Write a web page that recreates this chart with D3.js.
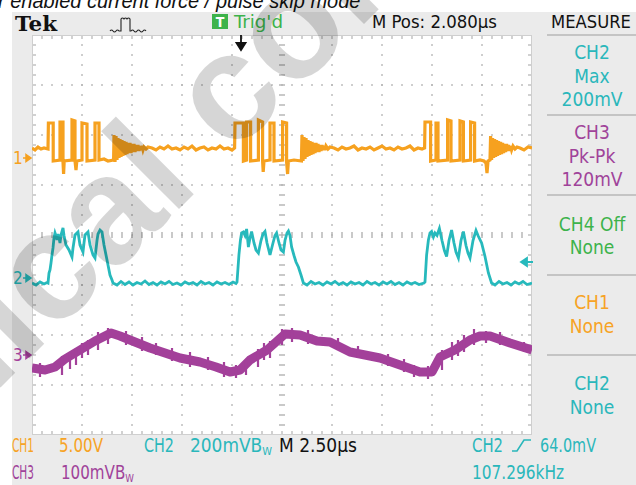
<!DOCTYPE html>
<html><head><meta charset="utf-8">
<script src="https://cdn.jsdelivr.net/npm/d3@7"></script>
<style>html,body{margin:0;padding:0;background:#fff;overflow:hidden}svg{display:block}</style>
</head><body>
<svg id="c" width="636" height="485"></svg>
<script>
// ---------------- DATA ----------------
// time in µs from the left edge of the screen (10 div x 2.50 µs)
const ch1Trace = [ // volts
[0.00,1.0],[0.15,0.8],[0.30,1.1],[0.45,0.9],[0.60,1.0],[0.80,0.9],
[0.82,3.5],[1.06,3.5],[1.06,-0.3],[1.40,-0.2],[1.40,3.6],[1.55,3.6],[1.55,-0.4],[1.58,-1.6],[1.61,-0.3],[2.00,-0.2],[2.00,3.8],[2.15,3.7],[2.15,-0.3],[2.20,-1.2],[2.24,-0.3],[2.50,-0.2],[2.50,3.5],[2.75,3.4],[2.75,-0.3],[3.15,-0.2],[3.15,3.5],[3.35,3.5],[3.35,-0.2],[3.60,-0.1],[3.80,-0.3],[4.08,-0.2],
[4.10,2.3],[4.15,-0.4],[4.20,2.2],[4.25,-0.2],[4.30,2.0],[4.35,0.0],[4.40,1.9],[4.45,0.1],[4.50,1.8],[4.55,0.2],[4.60,1.7],[4.65,0.3],[4.70,1.6],[4.75,0.4],[4.80,1.5],[4.85,0.5],[4.90,1.5],[4.95,0.5],[5.00,1.4],[5.05,0.6],[5.10,1.4],[5.15,0.6],[5.20,1.3],[5.25,0.7],[5.30,1.3],[5.35,0.7],[5.40,1.2],[5.45,0.8],[5.50,1.2],[5.55,0.8],[5.60,1.1],[5.70,0.9],[5.80,1.1],
[6.0,1.0],[6.2,0.8],[6.4,1.1],[6.6,0.9],[6.8,1.2],[7.0,0.9],[7.2,1.0],[7.4,0.8],[7.6,1.1],[7.8,0.9],[8.0,1.2],[8.2,0.8],[8.4,1.0],[8.6,1.1],[8.8,0.8],[9.0,1.0],[9.2,0.9],[9.4,1.2],[9.6,0.9],[9.8,1.0],[10.0,0.8],[10.13,1.0],
[10.15,3.5],[10.57,3.5],[10.57,-0.3],[10.73,-0.2],[10.73,3.6],[10.93,3.6],[10.93,-0.3],[11.32,-0.2],[11.32,3.8],[11.53,3.6],[11.53,-0.3],[11.56,-1.4],[11.60,-0.3],[11.90,-0.2],[11.90,3.5],[12.10,3.5],[12.10,-0.3],[12.53,-0.2],[12.53,3.6],[12.73,3.5],[12.73,-0.4],[12.78,-1.6],[12.82,-0.3],[13.10,-0.2],[13.47,-0.3],
[13.50,2.3],[13.55,-0.3],[13.60,2.1],[13.65,-0.1],[13.70,2.0],[13.75,0.1],[13.80,1.8],[13.85,0.2],[13.90,1.7],[13.95,0.3],[14.00,1.6],[14.05,0.4],[14.10,1.5],[14.15,0.5],[14.20,1.5],[14.25,0.6],[14.30,1.4],[14.35,0.6],[14.40,1.3],[14.45,0.7],[14.50,1.3],[14.55,0.8],[14.60,1.2],[14.65,0.8],[14.70,1.2],[14.80,0.9],[14.90,1.1],
[15.1,1.0],[15.3,0.8],[15.5,1.1],[15.7,0.9],[15.9,1.0],[16.1,1.2],[16.3,0.8],[16.5,1.0],[16.7,0.9],[16.9,1.1],[17.1,0.8],[17.3,1.0],[17.5,1.2],[17.7,0.9],[17.9,1.0],[18.1,0.8],[18.3,1.1],[18.5,0.9],[18.7,1.0],[18.9,1.2],[19.1,0.8],[19.3,1.0],[19.5,0.9],[19.63,1.0],
[19.65,3.6],[19.93,3.6],[19.93,-0.3],[20.20,-0.2],[20.20,3.5],[20.30,3.5],[20.30,-0.3],[20.78,-0.2],[20.78,3.8],[20.95,3.7],[20.95,-0.3],[21.40,-0.2],[21.40,3.7],[21.57,3.6],[21.57,-0.3],[21.93,-0.2],[21.93,3.6],[22.13,3.5],[22.13,-0.3],[22.40,-0.2],[22.60,-0.3],[22.70,-0.5],[22.75,-1.5],[22.80,-0.3],[22.90,-0.2],
[22.93,2.2],[22.98,-0.2],[23.03,2.0],[23.08,0.0],[23.13,1.9],[23.18,0.1],[23.23,1.8],[23.28,0.2],[23.33,1.7],[23.38,0.3],[23.43,1.6],[23.48,0.4],[23.53,1.5],[23.58,0.5],[23.63,1.4],[23.68,0.6],[23.73,1.4],[23.78,0.7],[23.83,1.3],[23.88,0.7],[23.93,1.2],[23.98,0.8],[24.05,1.2],[24.15,0.9],[24.25,1.1],
[24.4,1.0],[24.6,0.8],[24.8,1.1],[25.0,1.0]
];
const ch2Trace = [ // millivolts
[0.00,-20],[0.20,-28],[0.40,-16],[0.60,-24],[0.75,-18],[0.80,-20],[0.85,20],[0.90,32],[0.95,60],[1.00,92],[1.05,120],[1.10,160],[1.15,180],[1.20,168],[1.25,152],[1.30,176],[1.35,160],[1.40,140],[1.45,172],[1.55,200],[1.60,170],[1.70,132],[1.85,112],[2.00,84],[2.05,120],[2.15,172],[2.30,184],[2.40,132],[2.55,104],[2.60,140],[2.65,172],[2.80,184],[2.90,132],[3.05,92],[3.15,80],[3.25,150],[3.30,176],[3.40,192],[3.50,184],[3.60,132],[3.70,92],[3.80,52],[3.90,12],[4.00,-8],[4.05,-20],
[4.25,-28],[4.45,-14],[4.65,-26],[4.85,-16],[5.05,-28],[5.25,-18],[5.45,-24],[5.65,-12],[5.85,-26],[6.05,-18],[6.25,-28],[6.45,-16],[6.65,-24],[6.85,-14],[7.05,-26],[7.25,-20],[7.45,-28],[7.65,-16],[7.85,-24],[8.05,-18],[8.25,-28],[8.45,-14],[8.65,-24],[8.85,-18],[9.05,-28],[9.25,-16],[9.45,-24],[9.65,-18],[9.85,-26],[10.05,-16],[10.20,-22],
[10.25,-16],[10.30,40],[10.35,96],[10.42,150],[10.48,180],[10.57,184],[10.65,170],[10.73,196],[10.82,124],[10.90,160],[10.98,186],[11.10,140],[11.20,112],[11.32,100],[11.45,150],[11.55,176],[11.65,186],[11.75,140],[11.90,92],[12.05,140],[12.15,170],[12.23,180],[12.35,140],[12.45,112],[12.57,104],[12.65,150],[12.75,180],[12.82,188],[12.90,170],[12.98,124],[13.10,90],[13.20,64],[13.32,44],[13.45,12],[13.57,-20],
[13.75,-28],[13.95,-14],[14.15,-24],[14.35,-18],[14.55,-28],[14.75,-16],[14.95,-24],[15.15,-14],[15.35,-26],[15.55,-18],[15.75,-28],[15.95,-16],[16.15,-24],[16.35,-18],[16.55,-28],[16.75,-14],[16.95,-24],[17.15,-18],[17.35,-28],[17.55,-16],[17.75,-24],[17.95,-14],[18.15,-26],[18.35,-18],[18.55,-28],[18.75,-16],[18.95,-24],[19.15,-18],[19.35,-26],[19.60,-20],
[19.65,-16],[19.73,92],[19.82,152],[19.90,180],[19.98,186],[20.07,164],[20.15,180],[20.25,170],[20.37,198],[20.50,150],[20.62,110],[20.73,86],[20.85,150],[20.98,192],[21.10,140],[21.20,104],[21.32,80],[21.45,150],[21.57,186],[21.70,130],[21.80,100],[21.90,80],[22.05,150],[22.20,190],[22.30,170],[22.48,140],[22.65,86],[22.82,20],[22.98,-20],
[23.15,-28],[23.35,-14],[23.55,-24],[23.75,-18],[23.95,-28],[24.15,-16],[24.35,-24],[24.55,-14],[24.75,-26],[25.0,-20]
];
const ch3Trace = [ // millivolts
[0.00,-26],[0.65,-30],[1.15,-24],[1.65,-8],[2.15,4],[2.65,16],[3.15,28],[3.65,38],[3.95,44],[4.40,38],[5.15,26],[5.90,14],[6.65,4],[7.40,-6],[8.40,-14],[9.20,-24],[9.90,-34],[10.40,-30],[10.90,-10],[11.75,10],[12.20,26],[12.65,42],[13.40,40],[14.25,28],[14.90,26],[15.90,6],[16.65,0],[17.40,-6],[18.40,-20],[19.40,-34],[20.00,-34],[20.40,-4],[21.15,10],[21.90,30],[22.40,38],[22.90,38],[23.90,24],[25.00,10]
];
const ch3Spikes = [ // [µs, low mV, high mV]
[0.40,-44,-16],[1.50,-40,-2],[1.90,-28,6],[2.20,-20,14],[2.50,-6,24],[2.80,0,30],[3.30,10,46],[3.80,22,54],[4.70,20,48],[5.50,8,36],[6.20,0,24],[7.00,-12,14],[7.90,-24,6],[8.80,-30,-4],[9.60,-44,-14],[10.20,-46,-20],[10.70,-40,-14],[11.30,-24,12],[11.60,-10,24],[11.90,-6,28],[12.50,20,52],[13.00,26,54],[13.80,22,50],[15.30,10,34],[16.30,-6,18],[17.80,-22,2],[18.60,-34,-8],[19.10,-44,-20],[19.80,-48,-22],[20.50,-30,10],[21.00,-10,26],[21.30,-2,30],[21.60,6,40],[22.10,20,52],[22.70,24,48],[23.40,20,46],[24.60,6,26]
];
const headerLabels = ["Tek", "Trig'd", "M Pos: 2.080\u00b5s", "MEASURE"];
const measureBlocks = [["CH2","Max","200mV"],["CH3","Pk-Pk","120mV"],["CH4 Off","None"],["CH1","None"],["CH2","None"]];
const bottomRow1 = ["CH1","5.00V","CH2","200mV","M 2.50\u00b5s","CH2","64.0mV"];
const bottomRow2 = ["CH3","100mV","107.296kHz"];
const captionText = "r enabled current force / pulse skip mode";
const watermarkText = "Technical confidential";

// ---------------- SETUP ----------------
const C1="#f6a11f", C2="#27b9bc", C3="#a3409a", CG="#3db34b";
const T1="#f7a325", T2="#2ab7bb", T3="#a0439a";
const FONT="'DejaVu Sans Condensed','DejaVu Sans',sans-serif";
const svg = d3.select("#c");
const P = {x0:32, x1:532, y0:35, y1:435};
const x = d3.scaleLinear().domain([0,25]).range([P.x0,P.x1]);
const xDiv = d3.scaleLinear().domain([0,10]).range([P.x0,P.x1]);
const yDiv = d3.scaleLinear().domain([-4,4]).range([P.y1,P.y0]);
function chScale(perDiv,posDiv){return d3.scaleLinear().domain([(-4-posDiv)*perDiv,(4-posDiv)*perDiv]).range([P.y1,P.y0]);}
const y1 = chScale(5,1.54), y2 = chScale(200,-0.86), y3 = chScale(100,-2.4);

svg.append("rect").attr("width",636).attr("height",485).attr("fill","#fff");
svg.append("rect").attr("x",12).attr("y",12).attr("width",624).attr("height",473).attr("fill","#ebebeb");
svg.append("rect").attr("x",P.x0).attr("y",P.y0).attr("width",P.x1-P.x0).attr("height",P.y1-P.y0).attr("fill","#fff");

// caption (cropped at the top)
svg.append("text").attr("x",-2).attr("y",8).attr("font-family","'Liberation Sans',Arial,sans-serif")
  .attr("font-style","italic").attr("font-size",20).attr("fill","#111").text(captionText);

// ---------------- GRID ----------------
const grid = svg.append("g").attr("fill","#b3b3b3");
const dots=[];
for(let i=1;i<10;i++){ if(i===5) continue; for(let j=1;j<40;j++) dots.push([xDiv(i), yDiv(-4+j*0.2)]); }
for(let k=-3;k<=3;k++){ if(k===0) continue; for(let i=1;i<50;i++) dots.push([xDiv(i*0.2), yDiv(k)]); }
grid.selectAll("rect.d").data(dots).join("rect").attr("class","d")
  .attr("x",d=>d[0]-0.8).attr("y",d=>d[1]-0.8).attr("width",1.6).attr("height",1.6);
const hd=[], vd=[];
for(let j=1;j<40;j++) hd.push(yDiv(-4+j*0.2));
for(let i=1;i<50;i++) vd.push(xDiv(i*0.2));
grid.selectAll("rect.cv").data(hd).join("rect").attr("class","cv").attr("x",xDiv(5)-3).attr("y",d=>d-0.7).attr("width",6).attr("height",1.4);
grid.selectAll("rect.ch").data(vd).join("rect").attr("class","ch").attr("x",d=>d-0.7).attr("y",yDiv(0)-3).attr("width",1.4).attr("height",6);
grid.selectAll("rect.tt").data(vd).join("rect").attr("class","tt").attr("x",d=>d-0.6).attr("y",P.y0).attr("width",1.2).attr("height",4);
grid.selectAll("rect.tb").data(vd).join("rect").attr("class","tb").attr("x",d=>d-0.6).attr("y",P.y1-4).attr("width",1.2).attr("height",4);
grid.selectAll("rect.tl").data(hd).join("rect").attr("class","tl").attr("x",P.x0).attr("y",d=>d-0.6).attr("width",4).attr("height",1.2);
grid.selectAll("rect.tr").data(hd).join("rect").attr("class","tr").attr("x",P.x1-4).attr("y",d=>d-0.6).attr("width",4).attr("height",1.2);
svg.append("rect").attr("x",P.x0+0.5).attr("y",P.y0+0.5).attr("width",P.x1-P.x0-1).attr("height",P.y1-P.y0-1)
  .attr("fill","none").attr("stroke","#cfcfcf").attr("stroke-width",1);

// ---------------- TRACES ----------------
svg.append("clipPath").attr("id","pc").append("rect").attr("x",P.x0).attr("y",P.y0).attr("width",P.x1-P.x0).attr("height",P.y1-P.y0);
const tr = svg.append("g").attr("clip-path","url(#pc)");
const mk = ys => d3.line().x(d=>x(d[0])).y(d=>ys(d[1]));
tr.append("path").datum(ch3Trace).attr("d",mk(y3)).attr("fill","none").attr("stroke",C3).attr("stroke-width",9).attr("stroke-linejoin","round");
tr.selectAll("line.sp").data(ch3Spikes).join("line").attr("class","sp")
  .attr("x1",d=>x(d[0])).attr("x2",d=>x(d[0])).attr("y1",d=>y3(d[1])).attr("y2",d=>y3(d[2]))
  .attr("stroke",C3).attr("stroke-width",2.2);
tr.append("path").datum(ch2Trace).attr("d",mk(y2)).attr("fill","none").attr("stroke",C2).attr("stroke-width",2.8).attr("stroke-linejoin","miter");
tr.append("path").datum(ch1Trace).attr("d",mk(y1)).attr("fill","none").attr("stroke",C1).attr("stroke-width",3.2).attr("stroke-linejoin","miter");

// channel ground markers
[[y1(0),"1",C1],[y2(0),"2",C2],[y3(0),"3",C3]].forEach(([yy,lab,col])=>{
  svg.append("text").attr("x",13).attr("y",yy+6).attr("font-family",FONT).attr("font-size",17).attr("fill",col).text(lab);
  svg.append("path").attr("d",`M23,${yy} L27,${yy} M26,${yy-3.5} L31,${yy} L26,${yy+3.5} Z`).attr("stroke",col).attr("stroke-width",1.5).attr("fill",col);
});
// trigger level (CH2 64.0 mV)
const ty = y2(64);
svg.append("path").attr("d",`M521,${ty} L527,${ty-4} L527,${ty+4} Z M526,${ty} L533,${ty}`).attr("fill",C2).attr("stroke",C2).attr("stroke-width",1.8);
// trigger position arrow
svg.append("path").attr("d","M241,35 L241,44 M236.5,43 L245.5,43 L241,50 Z").attr("stroke","#111").attr("stroke-width",1.8).attr("fill","#111");

// ---------------- HEADER ----------------
svg.append("text").attr("x",15).attr("y",31).attr("font-family","'DejaVu Serif','Liberation Serif',serif").attr("font-weight","bold")
  .attr("font-size",20).attr("textLength",42).attr("lengthAdjust","spacingAndGlyphs").attr("fill","#111").text(headerLabels[0]);
svg.append("path").attr("d","M110,31 q1.5,-2 3,0 q1.5,2 3,0 q1.5,-2 3,0 L121,31 L121,19 q1.5,-2 3,0 q1.5,-2 3,0 q1.5,-2 3,0 L130,31 L131,31 q1.5,-2 3,0 q1.5,2 3,0 q1.5,-2 3,0 q1.5,2 3,0 q1.5,-2 3,0")
  .attr("fill","none").attr("stroke","#222").attr("stroke-width",1.1);
svg.append("rect").attr("x",212).attr("y",14).attr("width",16).attr("height",15).attr("fill",CG);
svg.append("text").attr("x",220).attr("y",27).attr("text-anchor","middle").attr("font-family",FONT).attr("font-weight","bold").attr("font-size",14).attr("fill","#fff").text("T");
svg.append("text").attr("x",234).attr("y",28).attr("font-family",FONT).attr("font-size",18).attr("textLength",49).attr("lengthAdjust","spacingAndGlyphs").attr("fill",CG).text(headerLabels[1]);
svg.append("text").attr("x",372).attr("y",28).attr("font-family",FONT).attr("font-size",18).attr("textLength",125).attr("lengthAdjust","spacingAndGlyphs").attr("fill","#111").text(headerLabels[2]);
svg.append("text").attr("x",551).attr("y",28).attr("font-family",FONT).attr("font-size",18).attr("textLength",80).attr("lengthAdjust","spacingAndGlyphs").attr("fill","#111").text(headerLabels[3]);

// ---------------- MEASURE PANEL ----------------
const sepY = [35,115,195,275,355];
svg.selectAll("line.sep").data(sepY).join("line").attr("class","sep").attr("x1",547).attr("x2",636).attr("y1",d=>d).attr("y2",d=>d)
  .attr("stroke","#c4c4c4").attr("stroke-width",2);
const blockColors=[[T2,T2,T2],[T3,T3,T3],[CG,CG],[T1,T1],[T2,T2]];
const blockBase=[[59,83,106],[139,163,186],[231,254],[309,333],[390,414]];
measureBlocks.forEach((blk,bi)=>{
  svg.selectAll(null).data(blk).join("text").attr("x",592).attr("y",(d,i)=>blockBase[bi][i]).attr("text-anchor","middle")
    .attr("font-family",FONT).attr("font-size",19).attr("fill",(d,i)=>blockColors[bi][i]).text(d=>d);
});

// ---------------- BOTTOM STATUS ----------------
function lab(xp,yp,w,txt,col,bw){
  const t=svg.append("text").attr("x",xp).attr("y",yp).attr("font-family",FONT).attr("font-size",19).attr("fill",col)
    .attr("textLength",w).attr("lengthAdjust","spacingAndGlyphs");
  t.append("tspan").text(txt);
  if(bw){ t.append("tspan").text("B"); t.append("tspan").attr("font-size",11).attr("dy",3).text("W"); }
  return t;
}
lab(12,452,22,bottomRow1[0],T1);
lab(59,452,44,bottomRow1[1],T1);
lab(144,452,30,bottomRow1[2],T2);
lab(190,452,82,bottomRow1[3],T2,true);
lab(279,452,78,bottomRow1[4],"#111");
lab(472,452,31,bottomRow1[5],T2);
svg.append("path").attr("d","M512,451 L517,451 L524,440 L531,440").attr("fill","none").attr("stroke",T2).attr("stroke-width",1.6);
lab(540,452,56,bottomRow1[6],T2);
lab(12,479,22,bottomRow2[0],T3);
lab(61,479,73,bottomRow2[1],T3,true);
lab(472,479,92,bottomRow2[2],T2);

// ---------------- WATERMARK ----------------
const wm = svg.append("text").attr("font-family","'Liberation Sans',Arial,sans-serif").attr("font-weight","bold")
  .attr("font-size",152).attr("fill","#000").attr("fill-opacity",0.16).text(watermarkText);
const off = wm.node().getSubStringLength(0,5);
wm.attr("x",-off).attr("y",0).attr("transform","translate(22,366) rotate(-45)");
</script>
</body></html>
